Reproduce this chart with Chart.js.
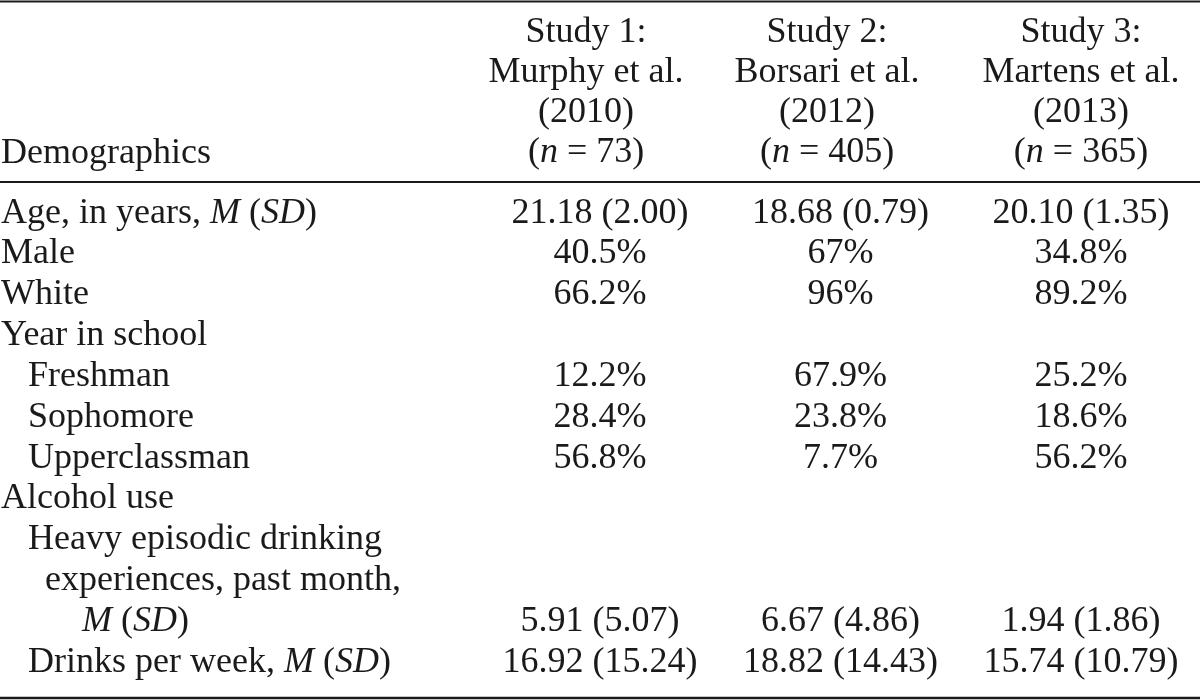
<!DOCTYPE html>
<html>
<head>
<meta charset="utf-8">
<script src="https://cdn.jsdelivr.net/npm/chart.js"></script>
<style>
  html, body { margin: 0; padding: 0; background: #fff; }
  #wrap { width: 1200px; height: 700px; }
</style>
</head>
<body>
<div id="wrap"><canvas id="tableChart" width="1200" height="700"></canvas></div>
<script>
// Table content
const stubHeader = 'Demographics';
const study1Header = ['Study 1:', 'Murphy et al.', '(2010)', '(*n* = 73)'];
const study2Header = ['Study 2:', 'Borsari et al.', '(2012)', '(*n* = 405)'];
const study3Header = ['Study 3:', 'Martens et al.', '(2013)', '(*n* = 365)'];

// *...* marks italic runs
const rowLabels = [
    'Age, in years, *M* (*SD*)', 'Male', 'White', 'Year in school',
    'Freshman', 'Sophomore', 'Upperclassman', 'Alcohol use',
    'Heavy episodic drinking', 'experiences, past month,', '*M* (*SD*)',
    'Drinks per week, *M* (*SD*)'
];
const rowLevels = [0, 0, 0, 0, 1, 1, 1, 0, 1, 2, 3, 1];

const study1 = ['21.18 (2.00)', '40.5%', '66.2%', '', '12.2%', '28.4%', '56.8%', '', '', '', '5.91 (5.07)', '16.92 (15.24)'];
const study2 = ['18.68 (0.79)', '67%', '96%', '', '67.9%', '23.8%', '7.7%', '', '', '', '6.67 (4.86)', '18.82 (14.43)'];
const study3 = ['20.10 (1.35)', '34.8%', '89.2%', '', '25.2%', '18.6%', '56.2%', '', '', '', '1.94 (1.86)', '15.74 (10.79)'];

// Layout (x in column units, y in row units)
const X_MIN = -1.4948, X_MAX = 3.4948;     // column 1 centre at 1, one column = 240.5px
const Y_MIN = -5.4468, Y_MAX = 11.6891;    // body row 0 at 0, one row = 40.85px
const headerX = [0.942, 1.944, 3.0];
const headerY = [-4.4186, -3.4394, -2.4602, -1.481];
const stubY = -1.4565;
const indentX = [X_MIN + 1 / 240.5, X_MIN + 28 / 240.5, X_MIN + 45 / 240.5, X_MIN + 82 / 240.5];
const rules = [{ y: -5.41, w: 2 }, { y: -0.9914, w: 2 }, { y: 11.64, w: 2.5 }];

const FONT = '"Liberation Serif", "Times New Roman", serif';
const FONT_SIZE = 36;
const INK = '#1a1a1a';

function cellsFor(values, col) {
    const pts = [];
    values.forEach((v, i) => {
        if (v) pts.push({ x: col, y: i, text: v, align: 'center' });
    });
    return pts;
}

const labelPoints = rowLabels.map((t, i) => ({ x: indentX[rowLevels[i]], y: i, text: t, align: 'left' }));
labelPoints.push({ x: indentX[0], y: stubY, text: stubHeader, align: 'left' });

const headerPoints = [];
[study1Header, study2Header, study3Header].forEach((lines, c) => {
    lines.forEach((t, k) => headerPoints.push({ x: headerX[c], y: headerY[k], text: t, align: 'center' }));
});

function drawRich(ctx, str, x, y, align) {
    const parts = str.split('*').map((s, i) => ({ s, italic: i % 2 === 1 })).filter(p => p.s);
    let total = 0;
    parts.forEach(p => {
        ctx.font = (p.italic ? 'italic ' : '') + FONT_SIZE + 'px ' + FONT;
        p.w = ctx.measureText(p.s).width;
        total += p.w;
    });
    let cx = align === 'center' ? x - total / 2 : x;
    parts.forEach(p => {
        ctx.font = (p.italic ? 'italic ' : '') + FONT_SIZE + 'px ' + FONT;
        ctx.fillText(p.s, cx, y);
        cx += p.w;
    });
}

const tablePlugin = {
    id: 'tableText',
    afterDatasetsDraw(chart) {
        const ctx = chart.ctx;
        const area = chart.chartArea;
        const yScale = chart.scales.y;
        ctx.save();
        ctx.strokeStyle = INK;
        rules.forEach(r => {
            const py = yScale.getPixelForValue(r.y);
            ctx.lineWidth = r.w;
            ctx.beginPath();
            ctx.moveTo(area.left, py);
            ctx.lineTo(area.right, py);
            ctx.stroke();
        });
        ctx.fillStyle = INK;
        ctx.textBaseline = 'alphabetic';
        ctx.textAlign = 'left';
        chart.data.datasets.forEach((ds, di) => {
            const meta = chart.getDatasetMeta(di);
            meta.data.forEach((el, j) => {
                const d = ds.data[j];
                drawRich(ctx, d.text, el.x, el.y, d.align);
            });
        });
        ctx.restore();
    }
};

new Chart(document.getElementById('tableChart'), {
    type: 'scatter',
    data: {
        datasets: [
            { label: 'Headers', data: headerPoints },
            { label: 'Rows', data: labelPoints },
            { label: 'Study 1', data: cellsFor(study1, 1) },
            { label: 'Study 2', data: cellsFor(study2, 2) },
            { label: 'Study 3', data: cellsFor(study3, 3) }
        ]
    },
    options: {
        responsive: false,
        animation: false,
        events: [],
        layout: { padding: 0 },
        elements: { point: { radius: 0, hoverRadius: 0 } },
        scales: {
            x: { type: 'linear', display: false, min: X_MIN, max: X_MAX },
            y: { type: 'linear', display: false, reverse: true, min: Y_MIN, max: Y_MAX }
        },
        plugins: {
            legend: { display: false },
            tooltip: { enabled: false }
        }
    },
    plugins: [tablePlugin]
});
</script>
</body>
</html>
